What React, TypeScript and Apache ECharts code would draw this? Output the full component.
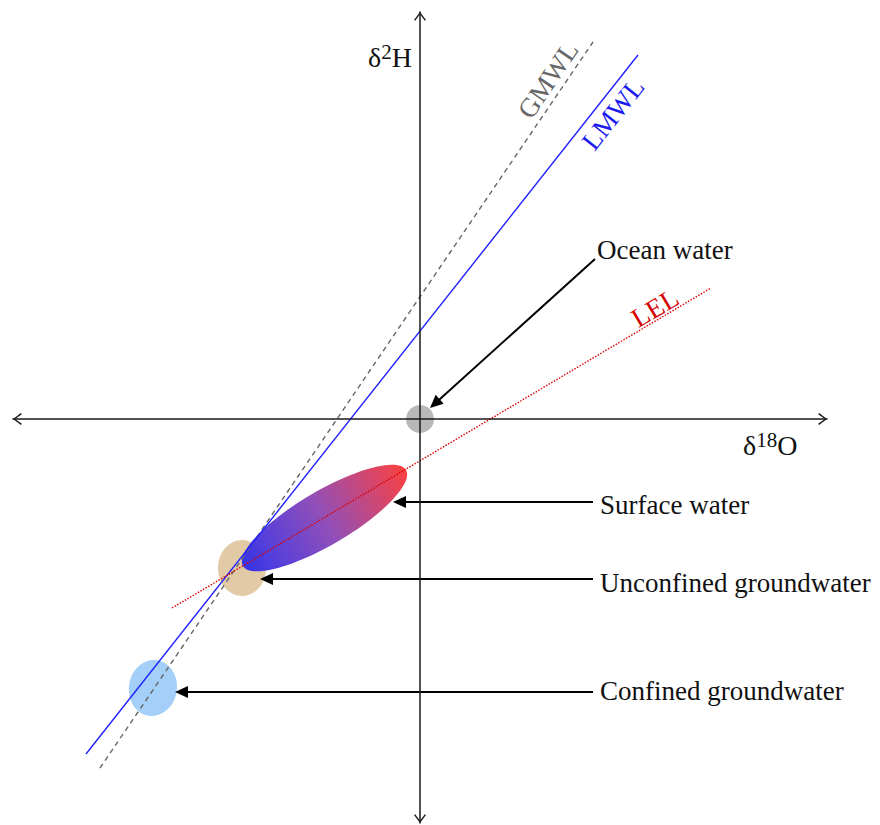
import React, { useEffect, useRef } from 'react';
import * as echarts from 'echarts';

// axis extents (δ18O, δ2H)
const xRange = [-20.35, 20.35];
const yRange = [-101, 101.75];

// water lines: [start, end] in (δ18O, δ2H)
const lineNames = ['GMWL', 'LMWL', 'LEL'];
const gmwl = [[-16, -87.25], [8.65, 94.25]];
const lmwl = [[-16.7, -83.75], [10.9, 91]];
const lel = [[-12.4, -47.25], [14.55, 32.75]];
const lineLabelAnchors = [[6.4, 84.75], [9.65, 76.25], [11.75, 27.75]];

// water bodies
const oceanWater = [[0, 0]];
const surfaceWaterTips = [[-8.85, -36.75, -0.7, -12.75]];
const unconfinedGroundwater = [[-8.9, -37.25]];
const confinedGroundwater = [[-13.35, -67.25]];

// annotations
const annotationNames = ['Ocean water', 'Surface water', 'Unconfined groundwater', 'Confined groundwater'];
const arrowTails = [[8.75, 40], [8.65, -20.75], [8.65, -40], [8.65, -68.25]];
const arrowTips = [[0.5, 2.75], [-1.35, -20.75], [-8, -40], [-12.25, -68.25]];
const annotationAnchors = [[8.85, 42.25], [9, -21.5], [9, -41.1], [9, -68]];

// axis titles
const axisTitleAnchors = [[-0.4, 90.4], [16.15, -6.6]];

const SERIF = '"Liberation Serif", "Times New Roman", serif';
const CHEVRON = 'path://M0,0 L6,8 L4.8,8.9 L0,2.2 L-4.8,8.9 L-6,8 Z';

export default function App() {
  const ref = useRef<HTMLDivElement>(null);

  useEffect(() => {
    if (!ref.current) return;
    const chart = echarts.init(ref.current, undefined, { renderer: 'svg' });

    const axisCommon = {
      type: 'value' as const,
      z: 5,
      axisTick: { show: false },
      axisLabel: { show: false },
      splitLine: { show: false },
      axisLine: {
        onZero: true,
        lineStyle: { color: '#1a1a1a', width: 1.5 },
        symbol: [CHEVRON, CHEVRON],
        symbolSize: [12, 9],
        symbolOffset: [4.4, -4.4],
      },
    };

    const lineSeries = (name: string, data: number[][], color: string, type: any) => ({
      type: 'line',
      name,
      data,
      showSymbol: false,
      symbol: 'none',
      silent: true,
      z: 3,
      lineStyle: { color, width: 1.4, type },
    });

    const lineColors = ['#666666', '#2020ff', '#dd0000'];
    const lineData = [gmwl, lmwl, lel];

    const option: any = {
      animation: false,
      backgroundColor: '#ffffff',
      grid: { left: 13, top: 12, width: 814, height: 811, outerBoundsMode: 'none' },
      xAxis: { ...axisCommon, min: xRange[0], max: xRange[1] },
      yAxis: { ...axisCommon, min: yRange[0], max: yRange[1] },
      series: [
        {
          type: 'custom',
          name: 'Groundwater',
          z: 2,
          data: [...unconfinedGroundwater, ...confinedGroundwater],
          renderItem: (params: any, api: any) => {
            const p = api.coord([api.value(0), api.value(1)]);
            const fills = ['#e3caa6', '#a3cff8'];
            return {
              type: 'ellipse',
              x: p[0],
              y: p[1],
              rotation: params.dataIndex === 1 ? -0.15 : 0,
              shape: { cx: 0, cy: 0, rx: 24, ry: 28 },
              style: { fill: fills[params.dataIndex] },
            };
          },
        },
        {
          type: 'custom',
          name: 'Surface water',
          z: 2,
          data: surfaceWaterTips,
          renderItem: (params: any, api: any) => {
            const p1 = api.coord([api.value(0), api.value(1)]);
            const p2 = api.coord([api.value(2), api.value(3)]);
            const cx = (p1[0] + p2[0]) / 2;
            const cy = (p1[1] + p2[1]) / 2;
            const a = Math.hypot(p2[0] - p1[0], p2[1] - p1[1]) / 2;
            const ang = Math.atan2(p1[1] - p2[1], p2[0] - p1[0]);
            return {
              type: 'ellipse',
              x: cx,
              y: cy,
              rotation: ang,
              shape: { cx: 0, cy: 0, rx: a, ry: 27 },
              style: {
                fill: new echarts.graphic.LinearGradient(0, 0, 1, 0, [
                  { offset: 0, color: 'rgba(45,45,235,0.95)' },
                  { offset: 0.5, color: 'rgba(140,70,180,0.95)' },
                  { offset: 1, color: 'rgba(250,55,55,0.95)' },
                ]),
              },
            };
          },
        },
        {
          type: 'custom',
          name: 'Ocean water',
          z: 2,
          data: oceanWater,
          renderItem: (params: any, api: any) => {
            const p = api.coord([api.value(0), api.value(1)]);
            return {
              type: 'circle',
              shape: { cx: p[0], cy: p[1], r: 14 },
              style: { fill: '#b8b8b8' },
            };
          },
        },
        lineSeries(lineNames[0], lineData[0], lineColors[0], [5, 4]),
        lineSeries(lineNames[1], lineData[1], lineColors[1], 'solid'),
        lineSeries(lineNames[2], lineData[2], lineColors[2], [1.5, 1.5]),
        {
          type: 'custom',
          name: 'Arrows',
          z: 4,
          data: arrowTails.map((t, i) => [t[0], t[1], arrowTips[i][0], arrowTips[i][1]]),
          renderItem: (params: any, api: any) => {
            const t = api.coord([api.value(0), api.value(1)]);
            const p = api.coord([api.value(2), api.value(3)]);
            const len = Math.hypot(p[0] - t[0], p[1] - t[1]);
            const dx = (p[0] - t[0]) / len;
            const dy = (p[1] - t[1]) / len;
            const L = 13;
            const W = 6;
            const bx = p[0] - dx * L;
            const by = p[1] - dy * L;
            const nx = -dy;
            const ny = dx;
            return {
              type: 'group',
              children: [
                {
                  type: 'line',
                  shape: { x1: t[0], y1: t[1], x2: bx + dx, y2: by + dy },
                  style: { stroke: '#000', lineWidth: 2 },
                },
                {
                  type: 'polygon',
                  shape: {
                    points: [
                      [p[0], p[1]],
                      [bx + nx * W, by + ny * W],
                      [bx - nx * W, by - ny * W],
                    ],
                  },
                  style: { fill: '#000' },
                },
              ],
            };
          },
        },
        {
          type: 'custom',
          name: 'Annotations',
          z: 6,
          data: annotationAnchors,
          renderItem: (params: any, api: any) => {
            const p = api.coord([api.value(0), api.value(1)]);
            return {
              type: 'text',
              x: p[0],
              y: p[1],
              style: {
                text: annotationNames[params.dataIndex],
                fontSize: 27,
                fontFamily: SERIF,
                fill: '#111',
                align: 'left',
                verticalAlign: 'middle',
              },
            };
          },
        },
        {
          type: 'custom',
          name: 'Line labels',
          z: 6,
          data: lineLabelAnchors,
          renderItem: (params: any, api: any) => {
            const i = params.dataIndex;
            const seg = lineData[i];
            const a = api.coord(seg[0]);
            const b = api.coord(seg[1]);
            const ang = Math.atan2(a[1] - b[1], b[0] - a[0]);
            const p = api.coord([api.value(0), api.value(1)]);
            return {
              type: 'text',
              x: p[0],
              y: p[1],
              rotation: ang,
              style: {
                text: lineNames[i],
                fontSize: 27,
                fontFamily: SERIF,
                fill: ['#666666', '#1a1aee', '#d40000'][i],
                align: 'center',
                verticalAlign: 'middle',
              },
            };
          },
        },
        {
          type: 'custom',
          name: 'Axis titles',
          z: 6,
          data: axisTitleAnchors,
          renderItem: (params: any, api: any) => {
            const i = params.dataIndex;
            const p = api.coord([api.value(0), api.value(1)]);
            return {
              type: 'text',
              x: p[0],
              y: p[1],
              style: {
                text: i === 0 ? '{m|δ}{s|2}{m|H}' : '{m|δ}{s|18}{m|O}',
                align: i === 0 ? 'right' : 'left',
                verticalAlign: 'middle',
                fontFamily: SERIF,
                fill: '#111',
                rich: {
                  m: { fontSize: 28, fontFamily: SERIF, fill: '#111', lineHeight: 32 },
                  s: { fontSize: 21, fontFamily: SERIF, fill: '#111', lineHeight: 14, verticalAlign: 'top' },
                },
              },
            };
          },
        },
      ],
    };

    chart.setOption(option);
    return () => chart.dispose();
  }, []);

  return (
    <div
      ref={ref}
      style={{ position: 'fixed', left: 0, top: 0, width: 880, height: 825, background: '#fff' }}
    />
  );
}
